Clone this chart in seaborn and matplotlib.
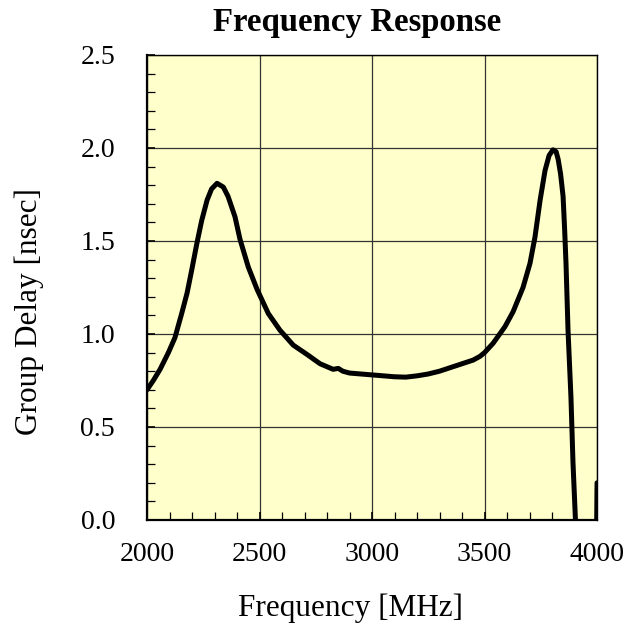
import numpy as np
import pandas as pd
import seaborn as sns
import matplotlib.pyplot as plt
from matplotlib.ticker import MultipleLocator, FormatStrFormatter

# ====== data ======
freq_mhz = [2000, 2028, 2058, 2095, 2124, 2154, 2178, 2198, 2222, 2243, 2267, 2287,
            2311, 2339, 2360, 2391, 2413, 2450, 2489, 2539, 2591, 2650, 2711, 2769,
            2827, 2850, 2870, 2900, 2950, 3000, 3050, 3100, 3150, 3200, 3250, 3300,
            3350, 3400, 3450, 3480, 3500, 3538, 3591, 3627, 3671, 3702, 3724, 3747,
            3769, 3787, 3804, 3818, 3827, 3838, 3849, 3856, 3862, 3871, 3884, 3893,
            3904, 3915]
delay_ns = [0.70, 0.75, 0.81, 0.90, 0.98, 1.11, 1.22, 1.34, 1.49, 1.61, 1.72, 1.78,
            1.81, 1.79, 1.74, 1.63, 1.51, 1.36, 1.24, 1.11, 1.02, 0.94, 0.89, 0.84,
            0.81, 0.815, 0.80, 0.79, 0.785, 0.78, 0.775, 0.77, 0.768, 0.775, 0.785, 0.80,
            0.82, 0.84, 0.86, 0.88, 0.90, 0.95, 1.04, 1.12, 1.25, 1.38, 1.52, 1.72,
            1.88, 1.96, 1.99, 1.98, 1.94, 1.86, 1.74, 1.56, 1.38, 1.02, 0.66, 0.31,
            0.0, -0.4]

# the trace coming back up at the right edge
edge_freq = [3996, 4000]
edge_delay = [-0.3, 0.2]

df = pd.DataFrame({'Frequency': freq_mhz, 'Delay': delay_ns})
df_edge = pd.DataFrame({'Frequency': edge_freq, 'Delay': edge_delay})

sns.set_style("ticks")
plt.rcParams['font.family'] = ['Liberation Serif', 'DejaVu Serif']
plt.rcParams['text.color'] = 'black'
plt.rcParams['axes.labelcolor'] = 'black'

fig = plt.figure(figsize=(6.44, 6.29), dpi=100)
ax = fig.add_axes([0.2283, 0.1733, 0.6988, 0.7393])
ax.set_facecolor('#FFFFCC')

sns.lineplot(data=df, x='Frequency', y='Delay', ax=ax, color='black', linewidth=3.6,
             sort=False, solid_capstyle='round', solid_joinstyle='round')
sns.lineplot(data=df_edge, x='Frequency', y='Delay', ax=ax, color='black', linewidth=3.6,
             sort=False)

ax.set_xlim(2000, 4000)
ax.set_ylim(0, 2.5)
ax.xaxis.set_major_locator(MultipleLocator(500))
ax.xaxis.set_minor_locator(MultipleLocator(100))
ax.yaxis.set_major_locator(MultipleLocator(0.5))
ax.yaxis.set_minor_locator(MultipleLocator(0.1))
ax.yaxis.set_major_formatter(FormatStrFormatter('%.1f'))

ax.grid(True, which='major', color='#333333', linewidth=0.9)
ax.tick_params(which='both', direction='in', top=False, right=False, colors='black',
               labelcolor='black')
ax.tick_params(which='major', length=6, width=1.2, labelsize=20)
ax.tick_params(axis='y', which='major', pad=23)
ax.tick_params(axis='x', which='major', pad=16)
ax.tick_params(which='minor', length=6, width=0.9)
for s in ax.spines.values():
    s.set_color('black')
    s.set_linewidth(1.0)
ax.spines['left'].set_linewidth(1.6)
ax.spines['bottom'].set_linewidth(1.6)

ax.set_xlabel('Frequency [MHz]', fontsize=22.5)
ax.set_ylabel('Group Delay [nsec]', fontsize=22.5)
ax.xaxis.label.set_va('center')
ax.yaxis.label.set_va('center')
ax.xaxis.set_label_coords(0.453, -0.19)
ax.yaxis.set_label_coords(-0.262, 0.449)
fig.text(357 / 644, 1 - 22 / 629, 'Frequency Response', ha='center', va='center',
         fontsize=23.6, fontweight='bold')

plt.savefig('out.png', dpi=100, facecolor='white')
